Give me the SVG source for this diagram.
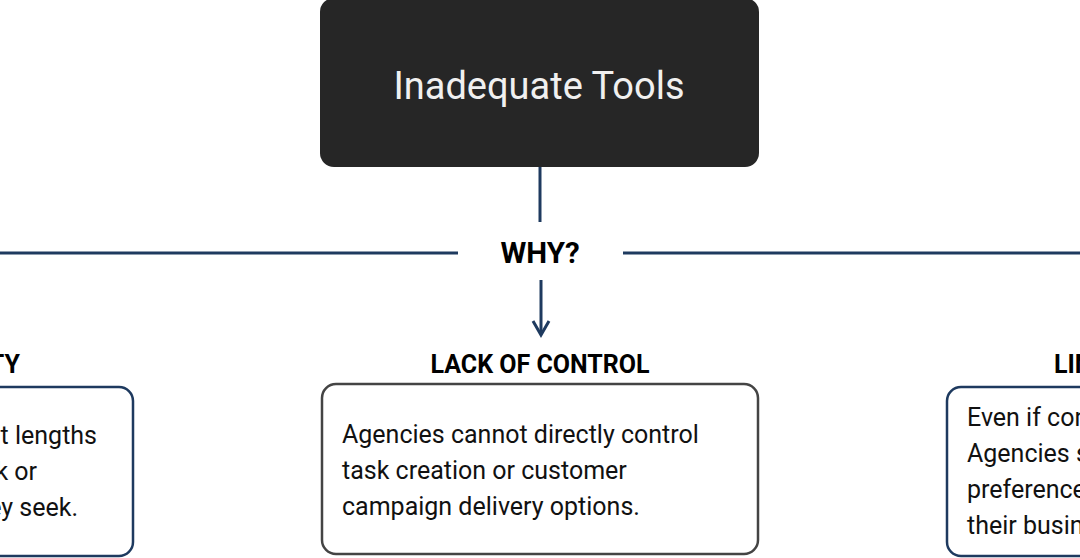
<svg xmlns="http://www.w3.org/2000/svg" width="1080" height="558" viewBox="0 0 1080 558">
<style>
.t{font-family:Roboto,"Liberation Sans",sans-serif;}
.body{font-size:25px;fill:#111;}
.head{font-size:25px;font-weight:bold;fill:#000;}
.blue{fill:#fff;stroke:#1e3a5f;stroke-width:2.5;}
.gray{fill:#fff;stroke:#444;stroke-width:2.5;}
.conn{stroke:#1e3a5f;stroke-width:3;fill:none;}
</style>
<rect width="1080" height="558" fill="#fff"/>
<g id="root">
<rect x="320" y="-2" width="439" height="169" rx="14" fill="#262626"/>
<text class="t" x="539" y="99" text-anchor="middle" font-size="38" fill="#f0f0f0">Inadequate Tools</text>
</g>
<g id="connectors">
<line class="conn" x1="540" y1="167" x2="540" y2="222"/>
<line class="conn" x1="0" y1="253" x2="458" y2="253"/>
<line class="conn" x1="623" y1="253" x2="1080" y2="253"/>
<line class="conn" x1="541" y1="280" x2="541" y2="334"/>
<polyline class="conn" points="533,321 541,335 549,321"/>
</g>
<g id="why">
<text class="t" x="540" y="263" text-anchor="middle" font-size="29.5" font-weight="bold" fill="#000">WHY?</text>
</g>
<g id="left">
<text class="t head" x="20" y="373" text-anchor="end">TY</text>
<rect class="blue" x="-40" y="387" width="173" height="169" rx="14"/>
<text class="t body" x="97" y="444" text-anchor="end">t lengths</text>
<text class="t body" x="37" y="480" text-anchor="end">k or</text>
<text class="t body" x="78" y="516" text-anchor="end">ey seek.</text>
</g>
<g id="center">
<text class="t head" x="540" y="373" text-anchor="middle">LACK OF CONTROL</text>
<rect class="gray" x="322" y="384" width="436" height="170" rx="14"/>
<text class="t body" x="342" y="443">Agencies cannot directly control</text>
<text class="t body" x="342" y="479">task creation or customer</text>
<text class="t body" x="342" y="515">campaign delivery options.</text>
</g>
<g id="right">
<text class="t head" x="1054" y="373">LIN</text>
<rect class="blue" x="947" y="387" width="180" height="169" rx="14"/>
<text class="t body" x="967" y="426">Even if con</text>
<text class="t body" x="967" y="462">Agencies s</text>
<text class="t body" x="967" y="498">preference</text>
<text class="t body" x="967" y="534">their busin</text>
</g>
</svg>
